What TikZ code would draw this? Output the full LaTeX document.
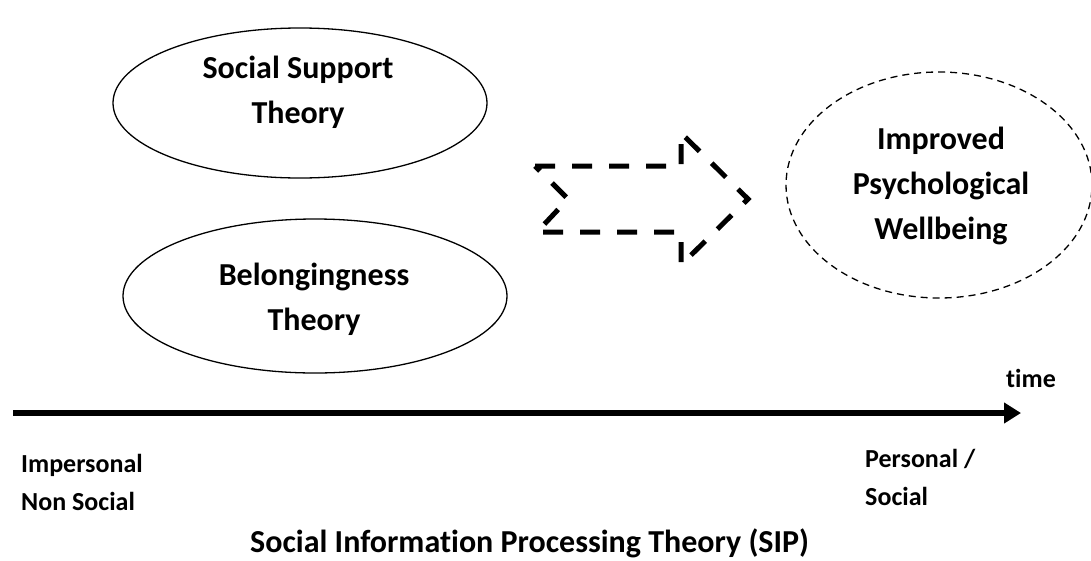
\documentclass[tikz,border=0pt]{standalone}
\usepackage{fontspec}
\setmainfont{Carlito}[Ligatures=NoCommon]
\usetikzlibrary{shapes.geometric,arrows.meta}
\begin{document}
\begin{tikzpicture}[x=1pt,y=-1pt,
  theory/.style={ellipse, draw, line width=1.3pt, inner sep=0pt},
  outcome/.style={ellipse, draw, line width=1.3pt, inner sep=0pt, dash pattern=on 7pt off 5pt},
  big/.style={font=\fontsize{32}{45}\selectfont\bfseries, align=center, inner sep=0pt, anchor=base},
  small/.style={font=\fontsize{26}{37.5}\selectfont\bfseries, align=left, inner sep=0pt, anchor=base west},
  title/.style={font=\fontsize{32}{40}\selectfont\bfseries, inner sep=0pt, anchor=base west},
  blockarrow/.style={line width=5pt, dash pattern=on 20pt off 17pt},
  axis/.style={line width=5.5pt, -{Triangle[length=17pt,width=20pt]}}]
\useasboundingbox (0,0) rectangle (1091,560);
% ellipses
\node[theory, minimum width=374pt, minimum height=150pt] (sst) at (300,103) {};
\node[big] (sstT) at (298,123) {Social Support\\Theory};
\node[theory, minimum width=384pt, minimum height=154pt] (bel) at (315,296) {};
\node[big] (belT) at (314,330) {Belongingness\\Theory};
\node[outcome, minimum width=306pt, minimum height=226pt] (ipw) at (939,185) {};
\node[big] (ipwT) at (941,239) {Improved\\Psychological\\Wellbeing};
% block arrow
\draw[blockarrow] (535,166) -- (681,166) -- (681,133) -- (748,199) -- (681,265)
  -- (681,232) -- (537,232) -- (568,199) -- cycle;
% axis
\coordinate (axS) at (13,413);
\coordinate (axE) at (1021,413);
\draw[axis] (axS) -- (axE);
\node[small, anchor=base] (time) at (1031,387) {time};
\node[small] (imp) at (21,510) {Impersonal\\Non Social};
\node[small] (per) at (865,505) {Personal /\\Social};
\node[title] (sip) at (250,552) {Social Information Processing Theory (SIP)};
\end{tikzpicture}
\end{document}
